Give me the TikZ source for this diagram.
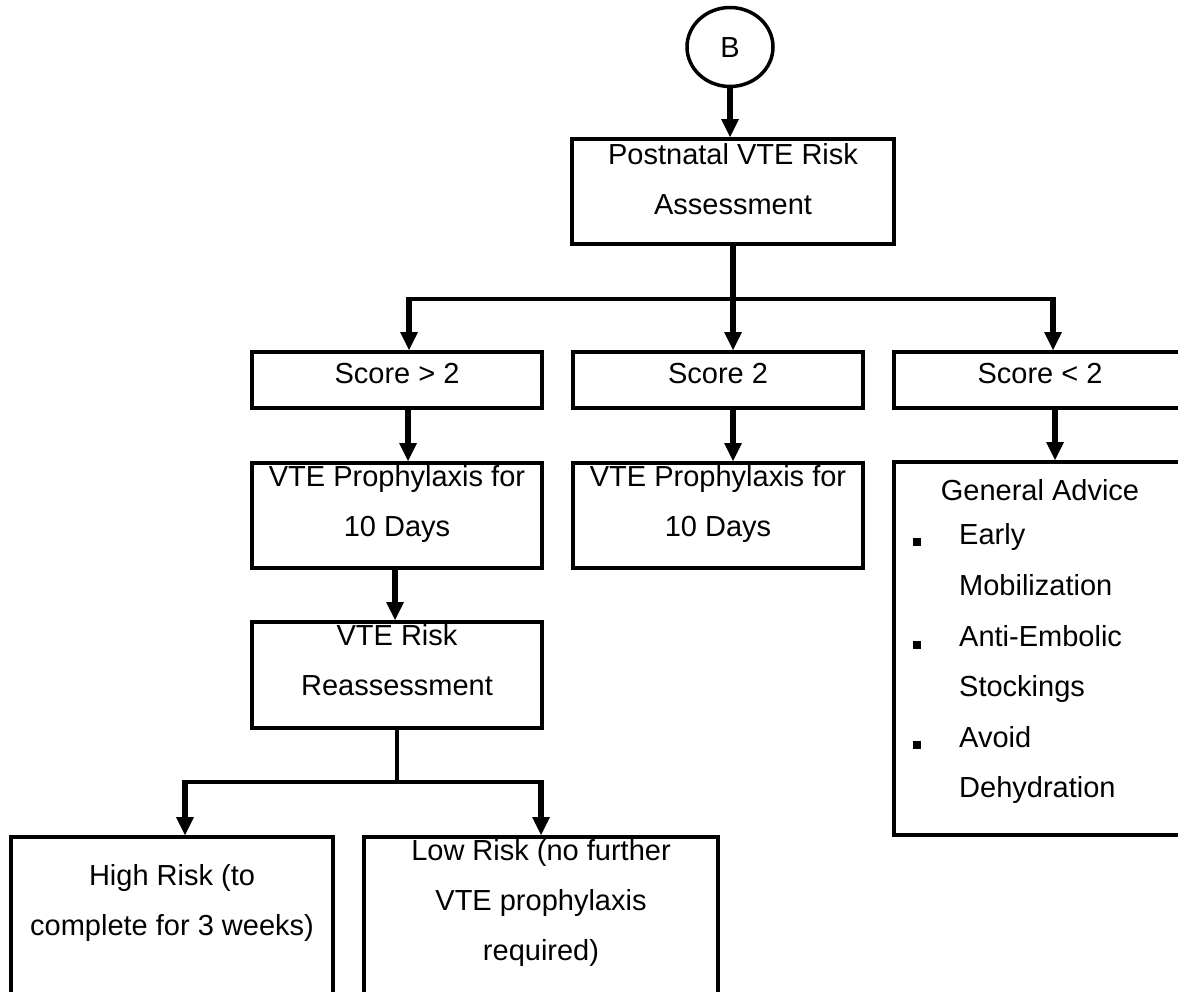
\documentclass[tikz,border=0pt]{standalone}
\usepackage{fontspec}
\setmainfont{Liberation Sans}
\usetikzlibrary{arrows.meta,shapes.geometric}
\begin{document}
\begin{tikzpicture}[x=1pt,y=-1pt,
  box/.style={draw,line width=4pt,rectangle,inner sep=0pt},
  txt/.style={font=\fontsize{29}{50}\selectfont,align=center,inner sep=0pt,
    execute at begin node=\strut,execute at end node=\strut},
  listtxt/.style={font=\fontsize{29}{50.6}\selectfont,align=left,inner sep=0pt,
    execute at begin node=\strut,execute at end node=\strut},
  ln/.style={line width=4pt},
  arr/.style={line width=6pt,-{Triangle[length=18pt,width=18pt,line width=0pt]}},
  bullet/.style={fill,inner sep=0pt,minimum size=8pt}]

\useasboundingbox (0,0) rectangle (1178,991);
\fill[white] (0,0) rectangle (1178,991);

\begin{scope}
\clip (0,0) rectangle (1178,991);

% entry connector
\node[draw,ellipse,line width=3.5pt,minimum width=86pt,minimum height=79pt,
      inner sep=0pt,txt] (b) at (730,47) {B};

% assessment
\node[box,minimum width=322pt,minimum height=105pt] (pn) at (733,191.5) {};
\node[txt] (pnt) at (733,186) {Postnatal VTE Risk\\Assessment};

% score boxes
\node[box,minimum width=290pt,minimum height=56pt] (s1) at (397,380) {};
\node[txt] (s1t) at (397,373) {Score > 2};
\node[box,minimum width=290pt,minimum height=56pt] (s2) at (718,380) {};
\node[txt] (s2t) at (718,373) {Score 2};
\node[box,minimum width=290pt,minimum height=56pt] (s3) at (1039,380) {};
\node[txt] (s3t) at (1040,373) {Score < 2};

% actions
\node[box,minimum width=290pt,minimum height=105pt] (p1) at (397,515.5) {};
\node[txt] (p1t) at (397,508) {VTE Prophylaxis for\\10 Days};
\node[box,minimum width=290pt,minimum height=105pt] (p2) at (718,515.5) {};
\node[txt] (p2t) at (718,508) {VTE Prophylaxis for\\10 Days};

\node[box,minimum width=290pt,minimum height=373pt] (ga) at (1039,648.5) {};
\node[txt] (gat) at (1040,490) {General Advice};
\node[listtxt,anchor=west] (gal) at (959,668.5)
  {Early\\Mobilization\\Anti-Embolic\\Stockings\\Avoid\\Dehydration};
\node[bullet] (g1) at (917,542) {};
\node[bullet] (g2) at (917,645) {};
\node[bullet] (g3) at (917,745) {};

% reassessment
\node[box,minimum width=290pt,minimum height=106pt] (r) at (397,675) {};
\node[txt] (rt) at (397,667.5) {VTE Risk\\Reassessment};

% outcomes
\node[box,minimum width=322pt,minimum height=173pt] (hr) at (172,923.5) {};
\node[txt] (hrt) at (172,907.5) {High Risk (to\\complete for 3 weeks)};
\node[box,minimum width=354pt,minimum height=173pt] (lr) at (541,923.5) {};
\node[txt] (lrt) at (541,907) {Low Risk (no further\\VTE prophylaxis\\required)};

% connectors
\coordinate (j1) at (409,299);
\coordinate (j3) at (1053,299);
\coordinate (k1) at (185,782);
\coordinate (k2) at (541,782);

\draw[arr] (b.south) -- (b.south |- pn.north);
\draw[ln] (j1) -- (j3);
\draw[arr] (pn.south) -- (pn.south |- s2.north);
\draw[arr] ([yshift=2pt]j1) -- (j1 |- s1.north);
\draw[arr] ([yshift=2pt]j3) -- (j3 |- s3.north);

\draw[arr] ([xshift=11pt]s1.south) -- ([xshift=11pt]p1.north);
\draw[arr] ([xshift=15pt]s2.south) -- ([xshift=15pt]p2.north);
\draw[arr] ([xshift=16pt]s3.south) -- ([xshift=16pt]ga.north);
\draw[arr] ([xshift=-2pt]p1.south) -- ([xshift=-2pt]r.north);

\draw[ln] (r.south) -- (r.south |- k1);
\draw[ln] (k1) -- (k2);
\draw[arr] ([yshift=2pt]k1) -- (k1 |- hr.north);
\draw[arr] ([yshift=2pt]k2) -- (k2 |- lr.north);
\end{scope}
\end{tikzpicture}
\end{document}
